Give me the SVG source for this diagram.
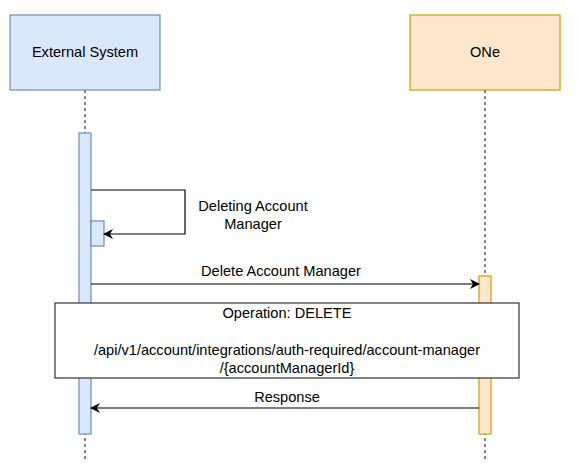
<svg xmlns="http://www.w3.org/2000/svg" width="578" height="473" viewBox="0 0 578 473">
<defs>
<style>
text{font-family:"Liberation Sans",Arial,sans-serif;font-size:14.6px;fill:#000;text-anchor:middle}
.blue{fill:#dae8fc;stroke:#6c8ebf;stroke-width:1.2}
.orange{fill:#ffe6cc;stroke:#d79b00;stroke-width:1.2}
.life{stroke:#333;stroke-width:1.2;stroke-dasharray:3 3;fill:none}
.msg{stroke:#000;stroke-width:1.2;fill:none}
</style>
<marker id="ah" viewBox="0 0 10 10" refX="9" refY="5" markerWidth="10" markerHeight="10" markerUnits="userSpaceOnUse" orient="auto">
<path d="M0,0 L10,5 L0,10 L3,5 Z" fill="#000"/>
</marker>
</defs>
<rect width="578" height="473" fill="#fff"/>
<g id="lifelines">
<line class="life" x1="85" y1="90" x2="85" y2="462"/>
<line class="life" x1="485" y1="90" x2="485" y2="462"/>
</g>
<g id="external-system">
<rect class="blue" x="10" y="15" width="150" height="75"/>
<text x="85" y="57">External System</text>
</g>
<g id="one">
<rect class="orange" x="410" y="15" width="150" height="75"/>
<text x="485" y="57">ONe</text>
</g>
<g id="external-activation">
<rect class="blue" x="79" y="133" width="12" height="301"/>
</g>
<g id="self-activation">
<rect class="blue" x="91" y="221" width="13" height="25"/>
</g>
<g id="one-activation">
<rect class="orange" x="479" y="276" width="12" height="158"/>
</g>
<g id="connectors">
<polyline class="msg" points="91,190 185,190 185,234 104,234" marker-end="url(#ah)"/>
<line class="msg" x1="91" y1="284" x2="479" y2="284" marker-end="url(#ah)"/>
<line class="msg" x1="479" y1="408" x2="91" y2="408" marker-end="url(#ah)"/>
</g>
<g id="labels">
<text x="253" y="211">Deleting Account</text>
<text x="253" y="229">Manager</text>
<text x="281" y="276">Delete Account Manager</text>
<text x="287" y="402">Response</text>
</g>
<g id="operation">
<rect x="55" y="303" width="464" height="75" fill="#fff" stroke="#333" stroke-width="1.2"/>
<text x="287" y="318">Operation: DELETE</text>
<text x="287" y="355">/api/v1/account/integrations/auth-required/account-manager</text>
<text x="287" y="373">/{accountManagerId}</text>
</g>
</svg>
